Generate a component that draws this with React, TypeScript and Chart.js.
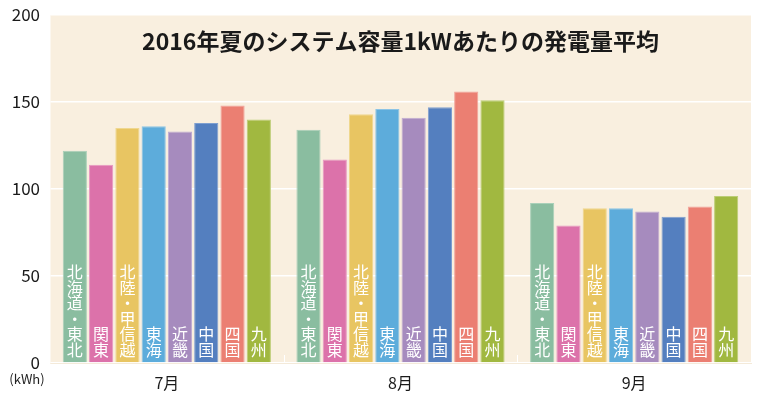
import React, { useEffect, useRef } from "react";
import { Chart, registerables } from "chart.js";

Chart.register(...registerables);

const months = ["7月", "8月", "9月"];
const regions = ["北海道・東北", "関東", "北陸・甲信越", "東海", "近畿", "中国", "四国", "九州"];
const hokkaidoTohoku = [122, 134, 92];
const kanto = [114, 117, 79];
const hokurikuKoshinetsu = [135, 143, 89];
const tokai = [136, 146, 89];
const kinki = [133, 141, 87];
const chugoku = [138, 147, 84];
const shikoku = [148, 156, 90];
const kyushu = [140, 151, 96];
const yTicks = [0, 50, 100, 150, 200];
const titleText = "2016年夏のシステム容量1kWあたりの発電量平均";
const unitText = "(kWh)";

const seriesValues = [hokkaidoTohoku, kanto, hokurikuKoshinetsu, tokai, kinki, chugoku, shikoku, kyushu];
const colors = ["#8abda0", "#dc72aa", "#e8c562", "#5dacdb", "#a68bbe", "#547fbf", "#eb7f72", "#a1b840"];
const borders = ["#a9d0b9", "#e899c2", "#efd78f", "#8cc4e5", "#c0abd2", "#7e9fd0", "#f1a49b", "#bccd75"];

const FONT = "'Noto Sans CJK JP', 'Noto Sans', sans-serif";

const customPlugin = {
  id: "custom",
  beforeDraw(chart: any) {
    const { ctx, chartArea } = chart;
    ctx.save();
    ctx.fillStyle = "#f9efdf";
    ctx.fillRect(chartArea.left, chartArea.top, chartArea.right - chartArea.left, chartArea.bottom - chartArea.top);
    ctx.restore();
  },
  afterDatasetsDraw(chart: any) {
    const { ctx, chartArea } = chart;
    ctx.save();
    // bar labels
    ctx.fillStyle = "#ffffff";
    ctx.font = `16px ${FONT}`;
    ctx.textAlign = "center";
    ctx.textBaseline = "middle";
    const lh = 15.5;
    chart.data.datasets.forEach((ds: any, di: number) => {
      const meta = chart.getDatasetMeta(di);
      const label: string = ds.label;
      const chars = Array.from(label);
      meta.data.forEach((bar: any) => {
        const bottom = bar.base - 5;
        chars.forEach((ch, i) => {
          const idx = chars.length - 1 - i;
          const y = bottom - lh * (i + 0.5);
          ctx.fillText(chars[idx], bar.x, y);
        });
      });
    });
    // small separators between categories
    const xs = chart.scales.x;
    ctx.strokeStyle = "#ffffff";
    ctx.lineWidth = 1;
    for (let i = 0; i < months.length - 1; i++) {
      const x = Math.round((xs.getPixelForTick(i) + xs.getPixelForTick(i + 1)) / 2) + 0.5;
      ctx.beginPath();
      ctx.moveTo(x, chartArea.bottom - 8);
      ctx.lineTo(x, chartArea.bottom);
      ctx.stroke();
    }
    // title
    ctx.fillStyle = "#1a1a1a";
    ctx.font = `bold 23px ${FONT}`;
    ctx.textAlign = "center";
    ctx.textBaseline = "middle";
    ctx.fillText(titleText, (chartArea.left + chartArea.right) / 2, chartArea.top + 26);
    // unit
    ctx.font = `13px ${FONT}`;
    ctx.fillStyle = "#222";
    ctx.fillText(unitText, 27, 379);
    ctx.restore();
  },
};

export default function App() {
  const ref = useRef<HTMLCanvasElement>(null);
  useEffect(() => {
    document.body.style.margin = "0";
    const chart = new Chart(ref.current as HTMLCanvasElement, {
      type: "bar",
      data: {
        labels: months,
        datasets: regions.map((r, i) => ({
          label: r,
          data: seriesValues[i],
          backgroundColor: colors[i],
          borderColor: borders[i],
          borderWidth: 1,
          categoryPercentage: 0.9,
          barPercentage: 0.92,
        })),
      },
      options: {
        responsive: false,
        animation: false,
        layout: { padding: { top: 15, right: 9, left: 0, bottom: 0 } },
        plugins: { legend: { display: false }, tooltip: { enabled: false }, title: { display: false } },
        scales: {
          x: {
            grid: { display: false, drawTicks: false },
            border: { display: true, color: "#f4ead9", width: 1 },
            ticks: { color: "#1a1a1a", font: { family: FONT, size: 16 }, padding: 10 },
            afterFit(scale: any) {
              scale.height = 33;
            },
          },
          y: {
            min: 0,
            max: 200,
            afterBuildTicks(scale: any) {
              scale.ticks = yTicks.map((v) => ({ value: v }));
            },
            grid: { color: "#ffffff", lineWidth: 1.5, drawTicks: false },
            border: { display: true, color: "#ffffff", width: 1.5 },
            ticks: { color: "#1a1a1a", font: { family: FONT, size: 17, lineHeight: 1.2 }, padding: 10 },
            afterFit(scale: any) {
              scale.width = 50;
              scale.paddingTop = 0;
            },
          },
        },
      },
      plugins: [customPlugin],
    });
    return () => chart.destroy();
  }, []);
  return (
    <div style={{ width: 760, height: 396, background: "#fff" }}>
      <canvas ref={ref} width={760} height={396} />
    </div>
  );
}
